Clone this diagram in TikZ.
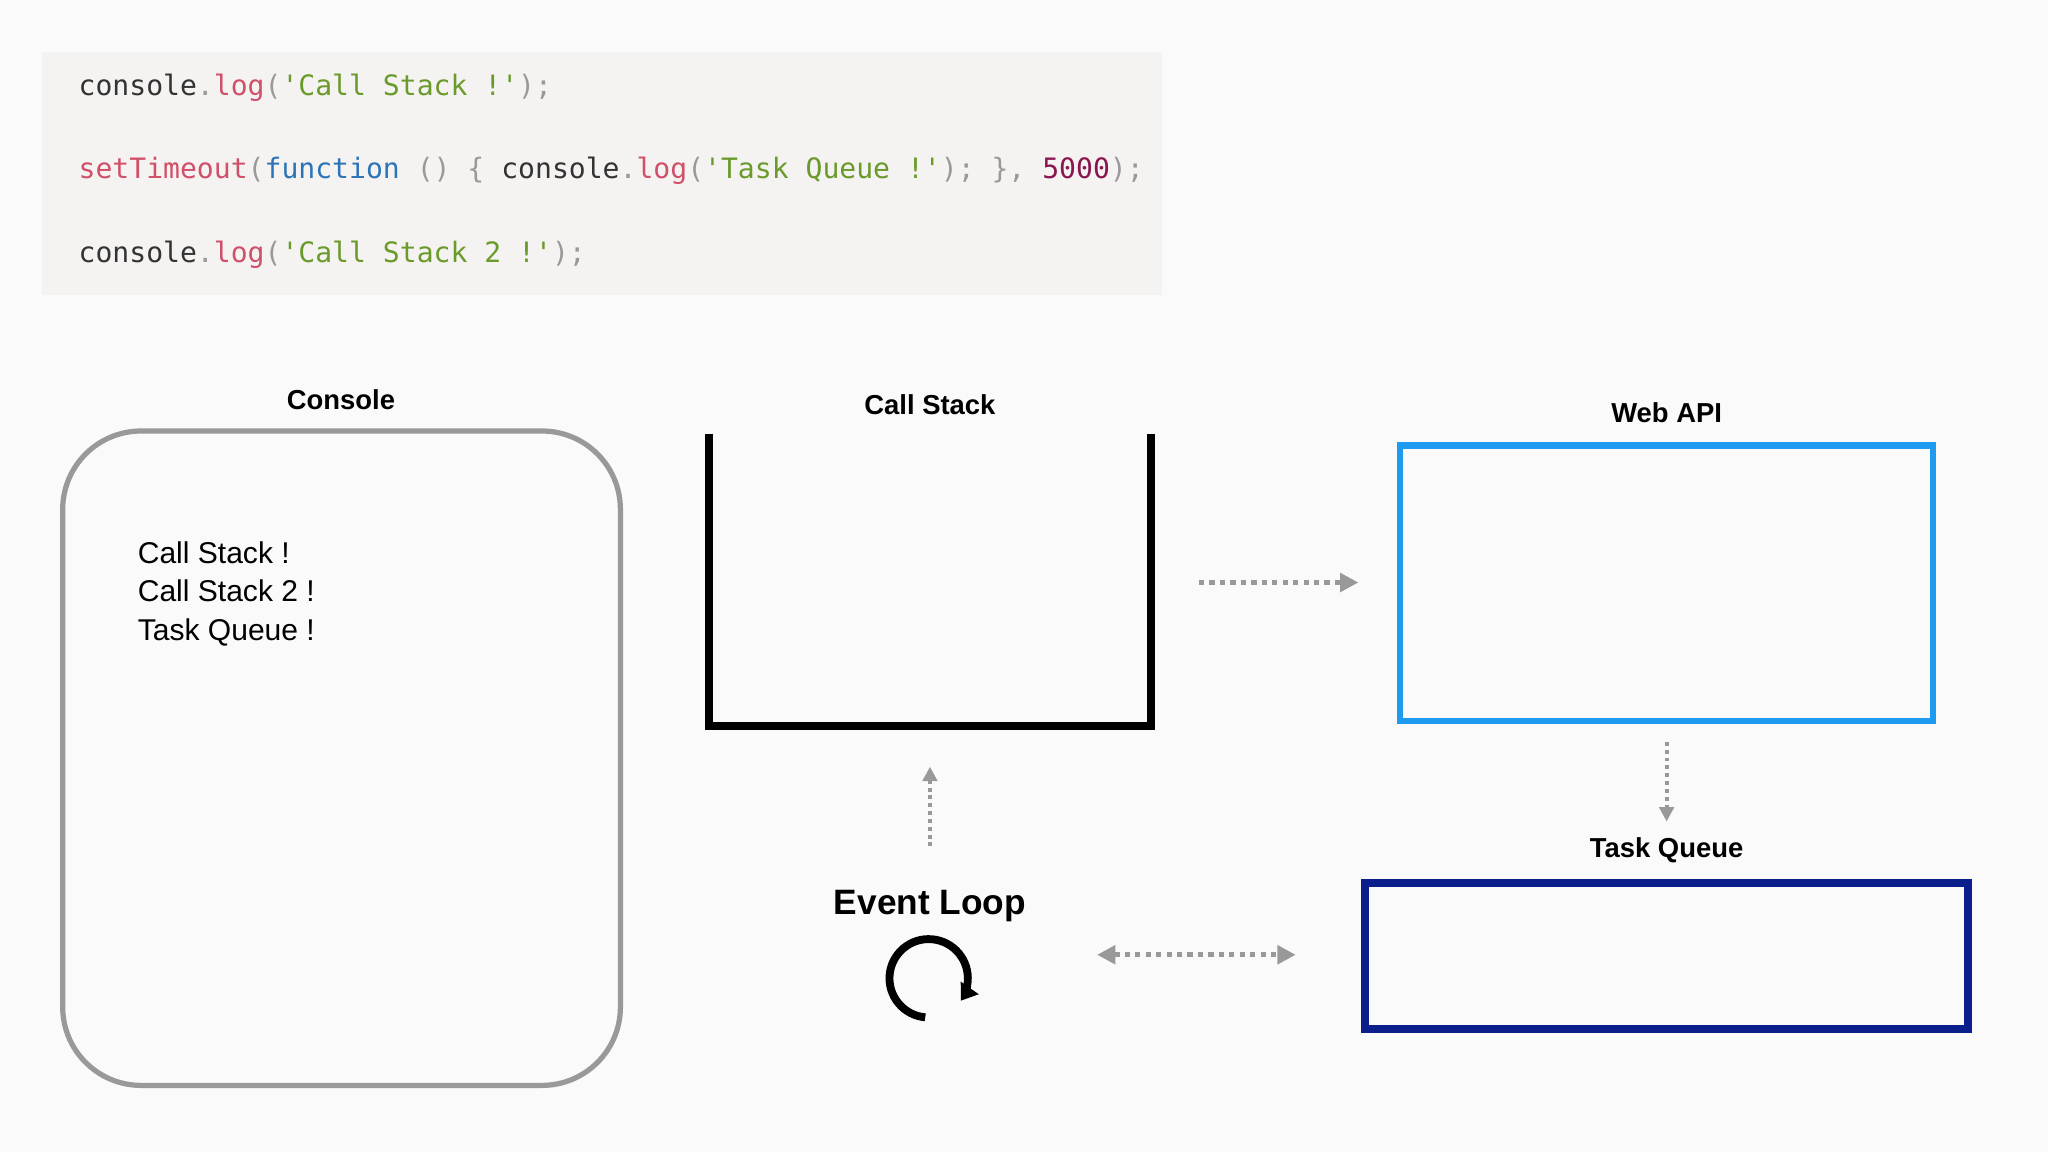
\documentclass[tikz,border=0pt]{standalone}
\usepackage{fontspec}
\setmainfont{Liberation Sans}
\newfontfamily\codefont{DejaVu Sans Mono}
\usetikzlibrary{arrows.meta}
\definecolor{codebg}{HTML}{F5F3F2}
\definecolor{cplain}{HTML}{333333}
\definecolor{cred}{HTML}{D0506A}
\definecolor{cgreen}{HTML}{6A9A2A}
\definecolor{cblue}{HTML}{2C74B8}
\definecolor{cnum}{HTML}{8A1650}
\definecolor{cgray}{HTML}{999999}
\definecolor{webblue}{HTML}{1E9BF0}
\definecolor{navy}{HTML}{0A1E8C}
\begin{document}
\begin{tikzpicture}[x=1pt,y=-1pt,
  code/.style={anchor=west,inner sep=0pt,font=\fontsize{21.5}{24}\codefont,text=cplain},
  title/.style={font=\fontsize{21}{24}\bfseries},
  flow/.style={draw=cgray,line width=4pt,dash pattern=on 4pt off 4pt,-{Triangle[length=14pt,width=14pt]}},
  flow2/.style={flow,{Triangle[length=14pt,width=14pt]}-{Triangle[length=14pt,width=14pt]}}]
\fill[white!98!black] (0,0) rectangle (1568,882);
\useasboundingbox (0,0) rectangle (1568,882);
% code block
\fill[codebg] (32,40) rectangle (890,226);
\node[code] (l1) at (60,67) {console\textcolor{cgray}{.}\textcolor{cred}{log}\textcolor{cgray}{(}\textcolor{cgreen}{'Call Stack !'}\textcolor{cgray}{);}};
\node[code] (l2) at (60,131) {\textcolor{cred}{setTimeout}\textcolor{cgray}{(}\textcolor{cblue}{function} \textcolor{cgray}{() \{} console\textcolor{cgray}{.}\textcolor{cred}{log}\textcolor{cgray}{(}\textcolor{cgreen}{'Task Queue !'}\textcolor{cgray}{); \},} \textcolor{cnum}{5000}\textcolor{cgray}{);}};
\node[code] (l3) at (60,195) {console\textcolor{cgray}{.}\textcolor{cred}{log}\textcolor{cgray}{(}\textcolor{cgreen}{'Call Stack 2 !'}\textcolor{cgray}{);}};
% console
\node[title] (tcon) at (261,306) {Console};
\draw[cgray,line width=4pt,rounded corners=60pt] (48,330) rectangle (475,831);
\node[anchor=north west,align=left,font=\fontsize{23}{29.5}\selectfont] (out) at (102,411)
  {Call Stack !\\Call Stack 2 !\\Task Queue !};
% call stack
\node[title] (tcs) at (712,310) {Call Stack};
\draw[line width=6pt] (543,332) -- (543,556) -- (881,556) -- (881,332);
% web api
\node[title] (twa) at (1276,316) {Web API};
\node[draw=webblue,line width=5pt,minimum width=408pt,minimum height=211pt] (wa) at (1276,446.5) {};
% task queue
\node[title] (ttq) at (1276,651) {Task Queue};
\node[draw=navy,line width=6pt,minimum width=462pt,minimum height=112pt] (tq) at (1276,732) {};
% event loop
\node[font=\fontsize{27}{30}\bfseries] (tel) at (712,694) {Event Loop};
\coordinate (loop) at (711,749);
\draw[line width=6pt,-{Triangle[length=12pt,width=16pt]}] ([shift={(95:30)}]loop) arc[start angle=95,end angle=395,radius=30];
% connectors
\coordinate (a1) at (918,446); \coordinate (a2) at (1040,446);
\draw[flow] (a1) -- (a2);
\coordinate (b1) at (1276,568); \coordinate (b2) at (1276,629);
\draw[flow,line width=3pt,dash pattern=on 3pt off 3pt,-{Triangle[length=11pt,width=11pt]}] (b1) -- (b2);
\coordinate (c1) at (712,648); \coordinate (c2) at (712,587);
\draw[flow,line width=3pt,dash pattern=on 3pt off 3pt,-{Triangle[length=11pt,width=11pt]}] (c1) -- (c2);
\coordinate (d1) at (840,731); \coordinate (d2) at (992,731);
\draw[flow2] (d1) -- (d2);
\end{tikzpicture}
\end{document}
